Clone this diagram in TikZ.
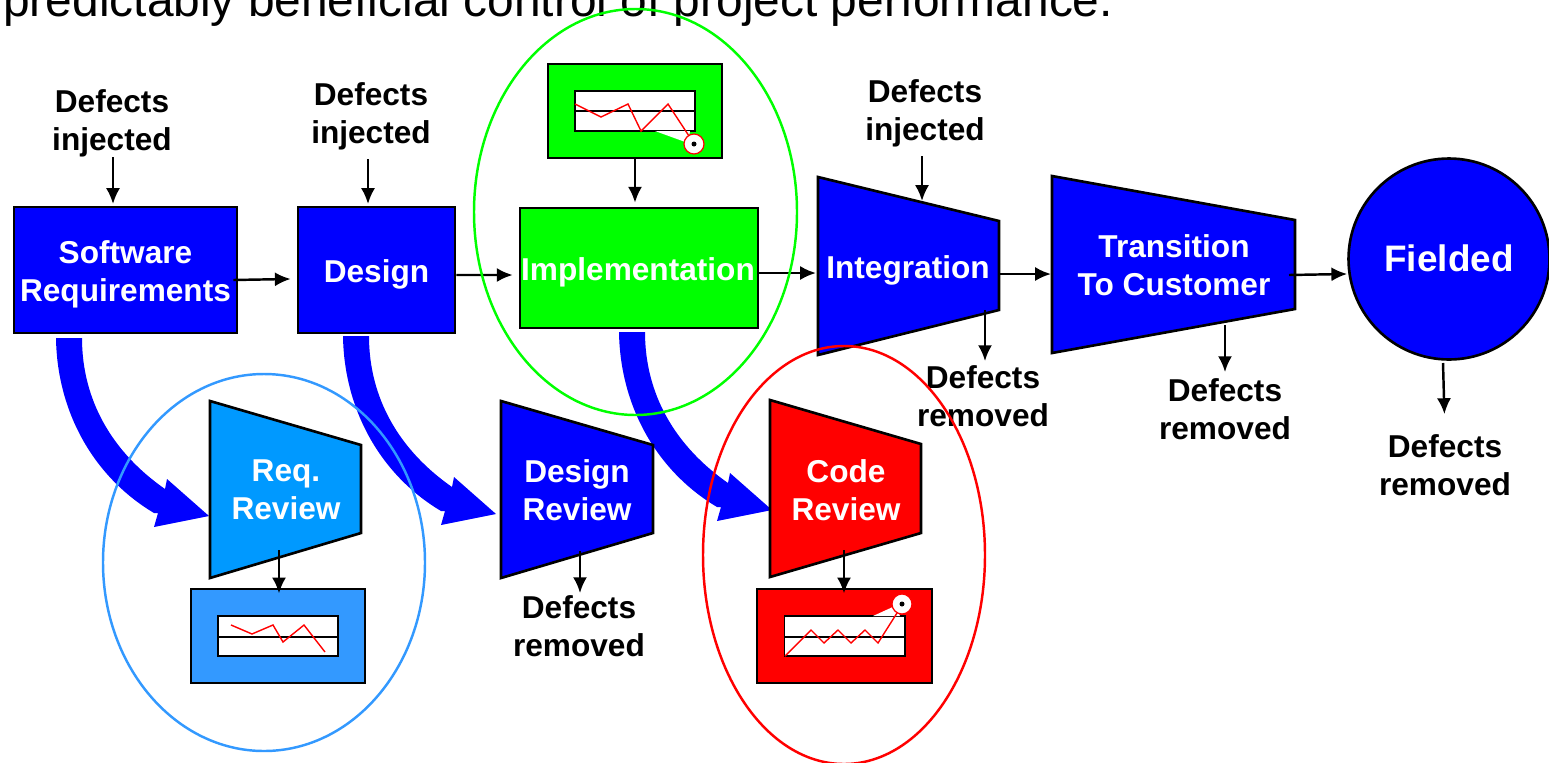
\documentclass[tikz,border=0pt]{standalone}
\usepackage{fontspec}
\usetikzlibrary{arrows.meta}
\setmainfont{Liberation Sans}
\definecolor{reqblue}{HTML}{0099FF}
\definecolor{chartblue}{HTML}{3399FF}
\tikzset{
  blockbox/.style={draw=black,line width=1.5pt,fill=blue},
  chartbox/.style={draw=black,line width=0.7pt,inner sep=0pt},
  whitebox/.style={draw=black,line width=0.7pt,fill=white},
  blocktext/.style={text=white,inner sep=0pt,font=\fontsize{18}{21.6}\selectfont\bfseries,align=center},
  blacktext/.style={text=black,inner sep=0pt,font=\fontsize{18}{21.6}\selectfont\bfseries,align=center},
  flowarrow/.style={-{Latex[length=9pt,width=8pt]},line width=1.4pt,shorten >=-0.04cm},
  trend/.style={red,line width=0.8pt},
  ring/.style={line width=1.4pt},
  bigarrow/.pic={
    \fill[blue] (56,338) .. controls (57,410) and (92,476) .. (154,513)
      -- (158,513) -- (154,527) -- (209,516) -- (167,479) -- (165,489)
      .. controls (112,452) and (82,400) .. (82,338) -- cycle;
  },
}
\begin{document}
\begin{tikzpicture}[x=0.02cm,y=-0.02cm]
\clip (0,0) rectangle (1549,762);

\node[anchor=base west,inner sep=0pt,font=\fontsize{27.25}{32}\selectfont] (headline) at (3,16) {predictably beneficial control of project performance.};

% thick arrows from the phases to the reviews
\pic at (0,0) {bigarrow};
\pic at (287,-2) {bigarrow};
\pic at (563,-6) {bigarrow};

% phases
\node[blockbox,minimum width=4.46cm,minimum height=2.52cm,blocktext] (softreq) at (125.5,270) {};
\node[blocktext] (softreqtext) at (125.5,274) {Software\\Requirements};
\node[blockbox,minimum width=3.14cm,minimum height=2.52cm,blocktext] (design) at (376.5,270) {};
\node[blocktext] (designtext) at (376.5,274) {Design};
\node[blockbox,fill=green,minimum width=4.76cm,minimum height=2.4cm,blocktext] (impl) at (639,268) {};
\node[blocktext] (impltext) at (638,272) {Implementation};
\filldraw[blockbox] (818,177) -- (999,221) -- (999,310) -- (818,355) -- cycle;
\node[blocktext] (integ) at (908,270) {Integration};
\filldraw[blockbox] (1052,176) -- (1295,220) -- (1295,309) -- (1052,353) -- cycle;
\node[blocktext] (transition) at (1174,265) {Transition\\To Customer};
\node[blockbox,circle,minimum size=4.02cm,inner sep=0pt,blocktext,font=\fontsize{21}{25}\selectfont\bfseries] (fielded) at (1449,259) {};
\node[blocktext,font=\fontsize{21}{25}\selectfont\bfseries] (fieldedtext) at (1449,258) {Fielded};

% reviews
\filldraw[blockbox,fill=reqblue] (210,401) -- (361,445) -- (361,533) -- (210,578) -- cycle;
\node[blocktext] (reqrev) at (286,490) {Req.\\Review};
\filldraw[blockbox] (501,401) -- (653,445) -- (653,533) -- (501,578) -- cycle;
\node[blocktext] (desrev) at (577,490) {Design\\Review};
\filldraw[blockbox,fill=red] (770,400) -- (921,444) -- (921,533) -- (770,577) -- cycle;
\node[blocktext] (coderev) at (846,490) {Code\\Review};

% charts
\node[chartbox,fill=green,minimum width=3.48cm,minimum height=1.88cm] (implchart) at (635,111) {};
\filldraw[whitebox] (575,91) rectangle (695,131);
\draw[chartbox] (575,111) -- (695,111);
\fill[white] (655,131) -- (688,143) -- (690,131) -- cycle;
\draw[trend] (575,104) -- (601,117) -- (628,104) -- (641,131) -- (668,104) -- (689,136);
\filldraw[draw=red,fill=white,line width=0.7pt] (694,144) circle (10);
\fill[black] (694,144) circle (2.5);

\node[chartbox,fill=chartblue,minimum width=3.48cm,minimum height=1.88cm] (reqchart) at (278,636) {};
\filldraw[whitebox] (218,616) rectangle (338,656);
\draw[chartbox] (218,637) -- (338,637);
\draw[trend] (231,625) -- (252,634) -- (273,625) -- (283,642) -- (304,625) -- (325,652);

\node[chartbox,fill=red,minimum width=3.5cm,minimum height=1.88cm] (codechart) at (844.5,636) {};
\filldraw[whitebox] (784.5,616) rectangle (905,656);
\draw[chartbox] (784.5,637) -- (905,637);
\fill[white] (873,616) -- (895,606) -- (900,616) -- cycle;
\draw[trend] (785,656) -- (811,630) -- (824,643) -- (838,630) -- (851,643) -- (865,630) -- (878,643) -- (897,613);
\filldraw[draw=red,fill=white,line width=0.7pt] (902,604) circle (10);
\fill[black] (902,604) circle (2.5);

% labels
\node[blacktext] (inj1) at (112,123) {Defects\\injected};
\node[blacktext] (inj2) at (371,116) {Defects\\injected};
\node[blacktext] (inj3) at (925,113) {Defects\\injected};
\node[blacktext] (rem1) at (983,396) {Defects\\removed};
\node[blacktext] (rem2) at (1225,409) {Defects\\removed};
\node[blacktext] (rem3) at (1445,465) {Defects\\removed};
\node[blacktext] (rem4) at (579,626) {Defects\\removed};

% ends on the slanted shapes
\coordinate (softreqtop) at (113,202);
\coordinate (designtop) at (368,202);
\coordinate (integtop) at (922,199);
\coordinate (integin) at (814,273);
\coordinate (integout) at (999,274);
\coordinate (integbottom) at (985,310);
\coordinate (transin) at (1049,274);
\coordinate (transout) at (1289,275);
\coordinate (transbottom) at (1225,325);
\coordinate (fieldedbottom) at (1443,363);
\coordinate (reqbottom) at (279,550);
\coordinate (desbottom) at (580,551);
\coordinate (codebottom) at (844,550);

% thin arrows
\draw[flowarrow] (inj1.south -| softreqtop) -- (softreqtop);
\draw[flowarrow,shorten <=0.18cm] (inj2.south -| designtop) -- (designtop);
\draw[flowarrow,shorten <=0.18cm] (inj3.south -| integtop) -- (integtop);
\draw[flowarrow,shorten >=0.08cm] (implchart.south) -- (implchart.south |- impl.north);
\draw[flowarrow] ([xshift=-0.1cm,yshift=-0.2cm]softreq.east) -- ([xshift=-0.16cm,yshift=-0.18cm]design.west);
\draw[flowarrow] ([yshift=-0.1cm]design.east) -- ([xshift=-0.16cm,yshift=-0.14cm]impl.west);
\draw[flowarrow] (integin -| impl.east) -- (integin);
\draw[flowarrow] (integout) -- (transin);
\draw[flowarrow] (transout) -- ([xshift=-0.04cm,yshift=-0.3cm]fielded.west);
\draw[flowarrow,shorten >=0.08cm] (integbottom) -- (integbottom |- rem1.north);
\draw[flowarrow,shorten >=0.12cm] (transbottom) -- (transbottom |- rem2.north);
\draw[flowarrow,shorten >=0.4cm] (fieldedbottom) -- (rem3.north);
\draw[flowarrow,shorten >=0.04cm] (desbottom) -- (desbottom |- rem4.north);
\draw[flowarrow,shorten >=-0.1cm] (reqbottom) -- (reqbottom |- reqchart.north);
\draw[flowarrow,shorten >=-0.1cm] (codebottom) -- (codebottom |- codechart.north);

% rings
\draw[ring,green] (635.5,212) ellipse (161.5 and 203);
\draw[ring,chartblue] (264,562.5) ellipse (161 and 188.5);
\draw[ring,red] (844,555) ellipse (141 and 209);
\end{tikzpicture}
\end{document}
